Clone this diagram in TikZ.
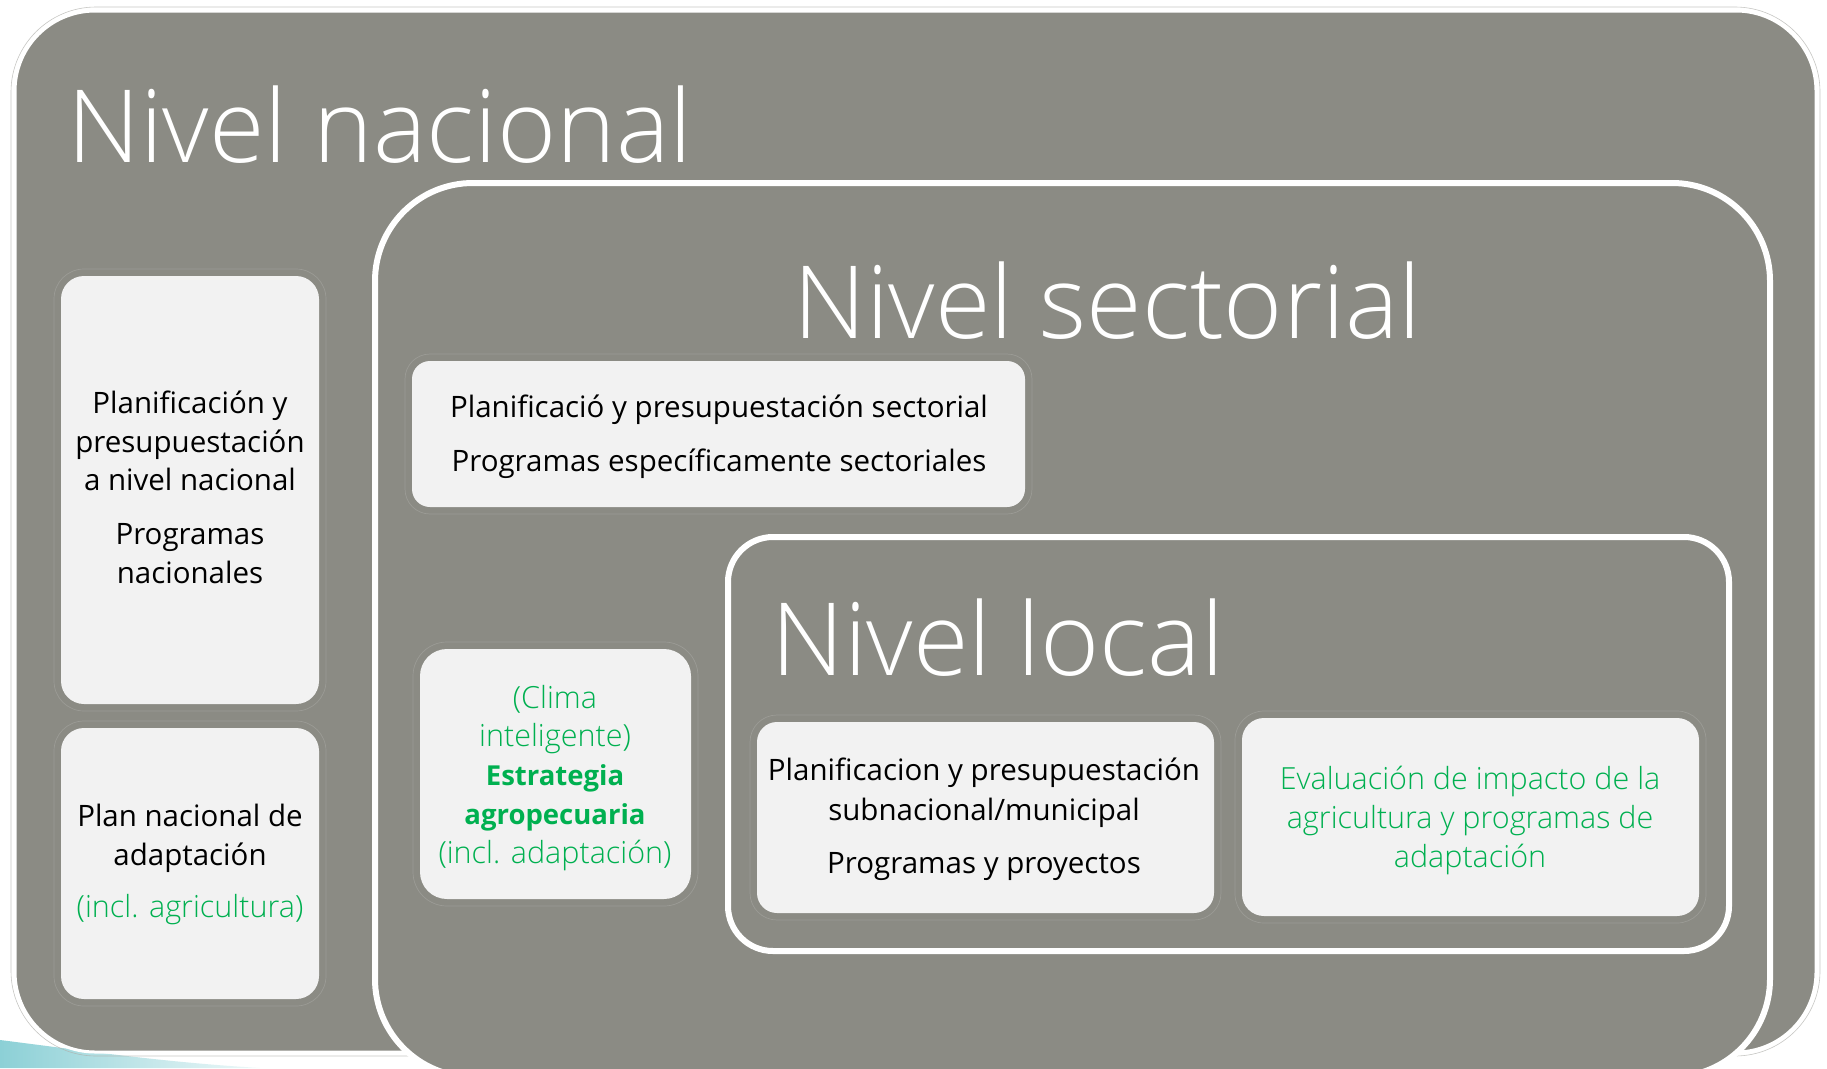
\documentclass[tikz,border=0pt]{standalone}
\usepackage{fontspec}
\setmainfont{Open Sans}
\newfontfamily\lightf{Open Sans Light}
\definecolor{bggray}{RGB}{139,139,132}
\definecolor{boxfill}{RGB}{242,242,242}
\definecolor{agreen}{RGB}{0,176,80}
\definecolor{halo}{RGB}{175,175,170}
\definecolor{teal1}{RGB}{140,208,214}
\newcommand\pbox[6]{%
  \draw[halocol, rounded corners=#6] (#1-7,#2-7) rectangle (#3+7,#4+7);
  \fill[boxfill, rounded corners=#5] (#1,#2) rectangle (#3,#4);}
\newcommand\gl{\lightf\fontsize{30.5}{38.5}\selectfont}
\newcommand\gb{\fontsize{27.5}{38.5}\selectfont\bfseries}
\begin{document}
\begin{tikzpicture}[x=1pt,y=-1pt,
  halocol/.style={draw=halo, line width=0.7pt, draw opacity=0.45},
  title/.style={text=white, font=\lightf\fontsize{101}{110}\selectfont, inner sep=0pt, anchor=base west},
  txt/.style={inner sep=0pt, align=center, font=\fontsize{29.5}{38.5}\selectfont, anchor=base},
  gtxt/.style={txt, text=agreen},
  level/.style={fill=bggray, draw=white, line width=6pt}]
\useasboundingbox (0,0) rectangle (1827,1068);
\fill[white] (0,0) rectangle (1827,1068);
% teal swoosh
\shade[left color=teal1, right color=teal1!15] (0,1040) .. controls (80,1050) and (160,1062) .. (260,1068) -- (0,1068) -- cycle;
% outer national box
\draw[halo, line width=0.6pt, rounded corners=85pt, draw opacity=0.7] (11,7) rectangle (1820,1056);
\filldraw[fill=bggray, draw=white, line width=3pt, rounded corners=80pt] (15,11) rectangle (1816,1052);
% national boxes
\pbox{61}{276}{319}{704}{23pt}{30pt}
\pbox{61}{728}{319}{999}{23pt}{30pt}
% sectorial box
\filldraw[level, rounded corners=98pt] (375,183) rectangle (1770,1077);
\pbox{412}{361}{1025}{507}{18pt}{25pt}
\pbox{420}{649}{691}{899}{27pt}{34pt}
% local box
\filldraw[level, rounded corners=45pt] (728,537) rectangle (1729,951);
\pbox{757}{722}{1214}{913}{20pt}{27pt}
\pbox{1242}{718}{1699}{916}{22pt}{29pt}
% titles
\node[title] (tnac) at (67,162) {Nivel nacional};
\node[title] (tsec) at (793,338) {Nivel sectorial};
\node[title] (tloc) at (771,675) {Nivel local};
% texts (base anchor = baseline of last line)
\node[txt] (t1) at (190,583) {Planificación y\\presupuestación\\a nivel nacional\\[15.5pt]Programas\\nacionales};
\node[txt] (t2) at (190,917) {Plan nacional de\\adaptación\\[13.5pt]{\color{agreen}\gl (incl. agricultura)}};
\node[txt] (t3) at (719,471) {Planificació y presupuestación sectorial\\[15.5pt]Programas específicamente sectoriales};
\node[gtxt, font=\fontsize{29.5}{38.75}\selectfont] (t4) at (555,863) {{\gl (Clima}\\{\gl inteligente)}\\{\gb Estrategia}\\{\gb agropecuaria}\\{\gl (incl. adaptación)}};
\node[txt, font=\fontsize{29.5}{40}\selectfont] (t5) at (984,873) {Planificacion y presupuestación\\subnacional/municipal\\[13pt]Programas y proyectos};
\node[gtxt, font=\fontsize{29.5}{39}\selectfont] (t6) at (1470,867) {{\gl Evaluación de impacto de la}\\{\gl agricultura y programas de}\\{\gl adaptación}};
\end{tikzpicture}
\end{document}
